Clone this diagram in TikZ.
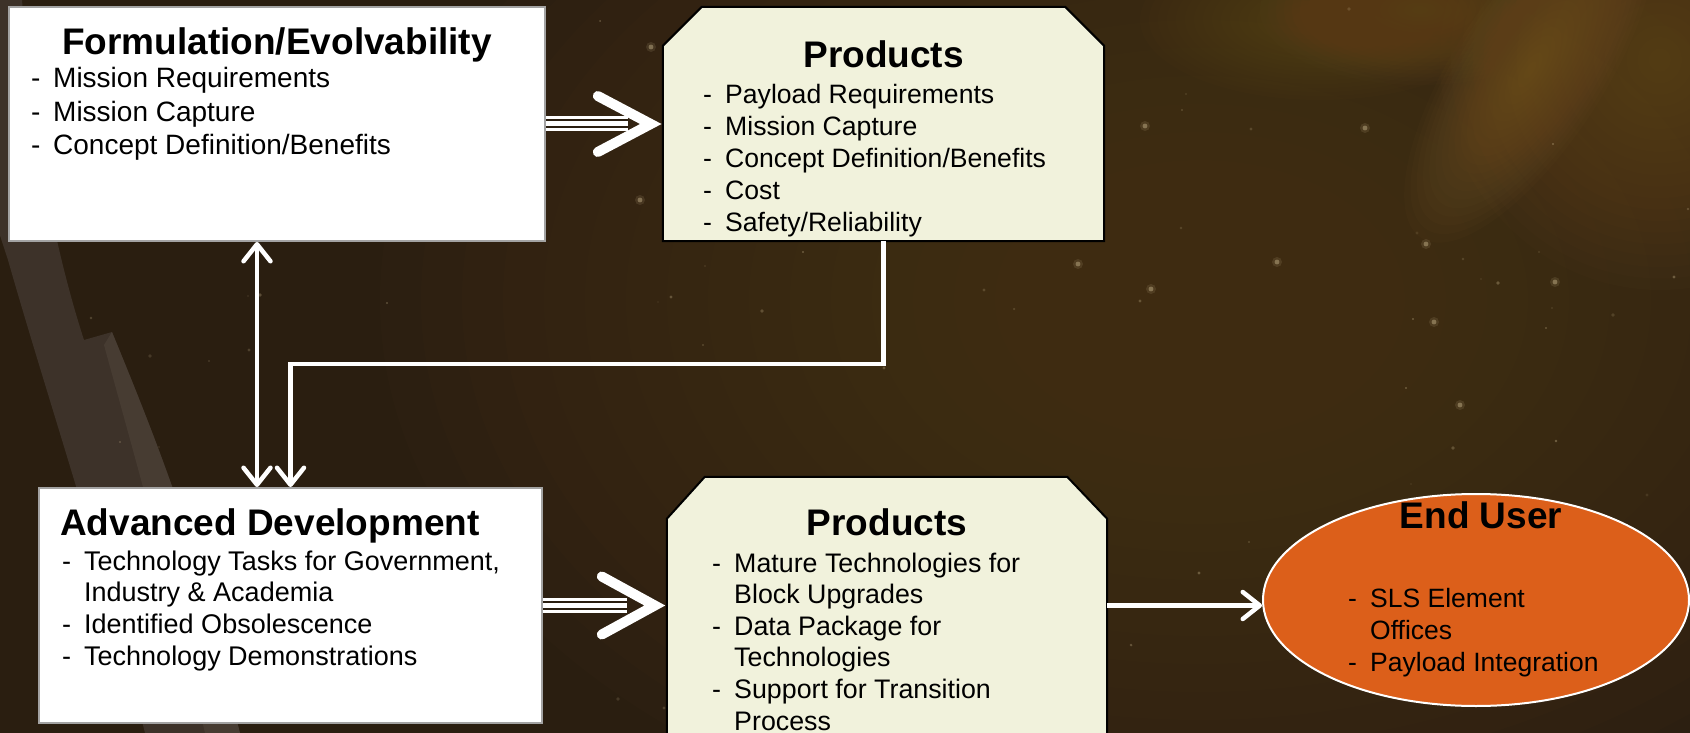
\documentclass[tikz,border=0pt]{standalone}
\usepackage{fontspec}
\setmainfont{Liberation Sans}
\usetikzlibrary{arrows.meta,calc,shapes.geometric}

\definecolor{spacebg}{HTML}{2A1E10}
\definecolor{hazecol}{HTML}{4A371D}
\definecolor{glowcol}{HTML}{6E5026}
\definecolor{streakcol}{HTML}{7E5C2A}
\definecolor{limbcol}{HTML}{423830}
\definecolor{limblite}{HTML}{4E4339}
\definecolor{cream}{HTML}{F1F2DC}
\definecolor{boxedge}{HTML}{A3A3A3}
\definecolor{useror}{HTML}{DC5F1A}
\definecolor{starcol}{HTML}{D9C79C}

% soft haze: stacked translucent ellipses (colour, x, y, rx, ry, angle, layer opacity)
\newcommand\softblob[7]{%
  \foreach \i in {1,...,20}{%
    \pgfmathsetmacro\hrx{#4/20*\i}%
    \pgfmathsetmacro\hry{#5/20*\i}%
    \fill[#1, opacity=#7, rotate around={#6:(#2,#3)}] (#2,#3) ellipse (\hrx pt and \hry pt);
  }}

\newcommand\dashcell{\makebox[22pt][l]{-}}

\tikzset{
  whitebox/.style={rectangle, draw=boxedge, line width=2pt, fill=white, inner sep=0pt},
  prodframe/.style={rectangle, inner sep=0pt},
  prodedge/.style={draw=black, line width=2pt, fill=cream, line join=miter},
  userblob/.style={ellipse, draw=white, line width=2pt, fill=useror, inner sep=0pt},
  ttl/.style={font=\fontsize{37}{40}\selectfont\bfseries, inner sep=0pt, anchor=base},
  items/.style 2 args={font=\fontsize{#1}{#2}\selectfont, inner sep=0pt, anchor=base west},
  wtip/.tip={Straight Barb[length=17pt,width=27pt,round]},
  conn/.style={draw=white, line width=4.5pt, line join=miter},
  triple/.style={draw=white, line width=5pt,
    preaction={draw=spacebg, line width=9pt,
      preaction={draw=white, line width=15pt}}},
  chevron/.style={draw=white, line width=10pt, line cap=round, line join=miter},
}

\begin{document}
\begin{tikzpicture}[x=1pt,y=-1pt]
\useasboundingbox (0,0) rectangle (1690,733);
\clip (0,0) rectangle (1690,733);

% deep space backdrop with warm haze in the upper right
\fill[spacebg] (0,0) rectangle (1690,733);
\softblob{hazecol}{1200}{300}{820}{560}{0}{0.08}
\softblob{glowcol}{1660}{60}{220}{230}{0}{0.05}
\softblob{streakcol}{1530}{70}{75}{200}{-33}{0.05}
\softblob{glowcol}{1420}{10}{160}{75}{0}{0.05}
\softblob{glowcol}{1320}{20}{180}{80}{0}{0.04}

% pale limb sweeping down the left side
\fill[limbcol, opacity=0.8]
  (-5,0) -- (22,0) .. controls (32,140) and (58,260) .. (84,340)
  -- (112,332) .. controls (140,400) and (168,470) .. (190,540)
  -- (240,733) -- (145,733) .. controls (105,570) and (45,390) .. (8,260)
  -- (-5,220) -- cycle;
\fill[limblite, opacity=0.6]
  (112,332) .. controls (140,400) and (168,470) .. (190,540)
  -- (240,733) -- (205,733) .. controls (170,580) and (130,440) .. (104,345) -- cycle;

% scattered stars
\pgfmathsetseed{4711}
\foreach \k in {1,...,90}{
  \pgfmathsetmacro\sx{random(0,1690)}
  \pgfmathsetmacro\sy{random(0,733)}
  \pgfmathsetmacro\so{0.1+0.25*rnd}
  \pgfmathsetmacro\sr{0.8+1.2*rnd}
  \fill[starcol, opacity=\so] (\sx,\sy) circle (\sr pt);
}
\foreach \sx/\sy in {651/47, 1555/282, 1460/405, 1426/244, 1151/289, 1078/264,
                      1145/126, 1365/128, 1277/262, 1434/322, 640/200}{
  \fill[starcol, opacity=0.12] (\sx,\sy) circle (5pt);
  \fill[starcol, opacity=0.4] (\sx,\sy) circle (2.4pt);
}

% boxes
\node[whitebox, minimum width=536pt, minimum height=234pt] (form) at (277,124) {};
\node[whitebox, minimum width=503pt, minimum height=235pt] (adv) at (290.5,605.5) {};
\node[prodframe, minimum width=441pt, minimum height=234pt] (pA) at (883.5,124) {};
\node[prodframe, minimum width=440pt, minimum height=298pt] (pB) at (887,626) {};
\node[userblob, minimum width=426pt, minimum height=212pt] (user) at (1476,600) {};

\draw[prodedge] (pA.south west) -- ($(pA.north west)+(0,39)$) -- ($(pA.north west)+(39,0)$)
  -- ($(pA.north east)+(-39,0)$) -- ($(pA.north east)+(0,39)$) -- (pA.south east) -- cycle;
\draw[prodedge] (pB.south west) -- ($(pB.north west)+(0,42)$) -- ($(pB.north west)+(38,0)$)
  -- ($(pB.north east)+(-40,0)$) -- ($(pB.north east)+(0,42)$) -- (pB.south east) -- cycle;

% box texts
\node[ttl] (formT) at (277,54.5) {Formulation/Evolvability};
\node[items={28}{33.5}] (formL) at (31,88) {\begin{tabular}[t]{@{}l@{}l@{}}
  \dashcell & Mission Requirements\\
  \dashcell & Mission Capture\\
  \dashcell & Concept Definition/Benefits
\end{tabular}};

\node[ttl] (pAT) at (883.5,67.7) {Products};
\node[items={26.6}{32}] (pAL) at (703,103.5) {\begin{tabular}[t]{@{}l@{}l@{}}
  \dashcell & Payload Requirements\\
  \dashcell & Mission Capture\\
  \dashcell & Concept Definition/Benefits\\
  \dashcell & Cost\\
  \dashcell & Safety/Reliability
\end{tabular}};

\node[ttl, anchor=base west] (advT) at (60,535) {Advanced Development};
\node[items={27}{31.7}] (advL) at (62,570) {\begin{tabular}[t]{@{}l@{}l@{}}
  \dashcell & Technology Tasks for Government,\\
            & Industry \& Academia\\
  \dashcell & Identified Obsolescence\\
  \dashcell & Technology Demonstrations
\end{tabular}};

\node[ttl] (pBT) at (887,535) {Products};
\node[items={26.8}{31.6}] (pBL) at (712,572) {\begin{tabular}[t]{@{}l@{}l@{}}
  \dashcell & Mature Technologies for\\
            & Block Upgrades\\
  \dashcell & Data Package for\\
            & Technologies\\
  \dashcell & Support for Transition\\
            & Process
\end{tabular}};

\node[ttl] (userT) at (1481,528) {End User};
\node[items={26.5}{32}] (userL) at (1348,607) {\begin{tabular}[t]{@{}l@{}l@{}}
  \dashcell & SLS Element\\
            & Offices\\
  \dashcell & Payload Integration
\end{tabular}};

% hand-off arrows into the product boxes
\draw[triple] (form.east) -- ++(82,0);
\draw[chevron] ($(pA.west)+(-65,-28)$) -- ($(pA.west)+(-12,0)$) -- ($(pA.west)+(-65,28)$);
\coordinate (tipB) at (pB.west |- adv.east);
\draw[triple] (adv.east) -- ($(tipB)+(-40,0)$);
\draw[chevron] ($(tipB)+(-65,-29)$) -- ($(tipB)+(-12,0)$) -- ($(tipB)+(-65,29)$);

% connectors
\draw[conn, wtip-wtip] ($(form.south)+(-20,0)$) -- ($(adv.north)+(-33.5,0)$);
\draw[conn, -wtip] (pA.south) -- ++(0,123) -| (adv.north);
\draw[conn, -wtip] (pB.east |- adv.east) -- (user.west |- adv.east);
\end{tikzpicture}
\end{document}
